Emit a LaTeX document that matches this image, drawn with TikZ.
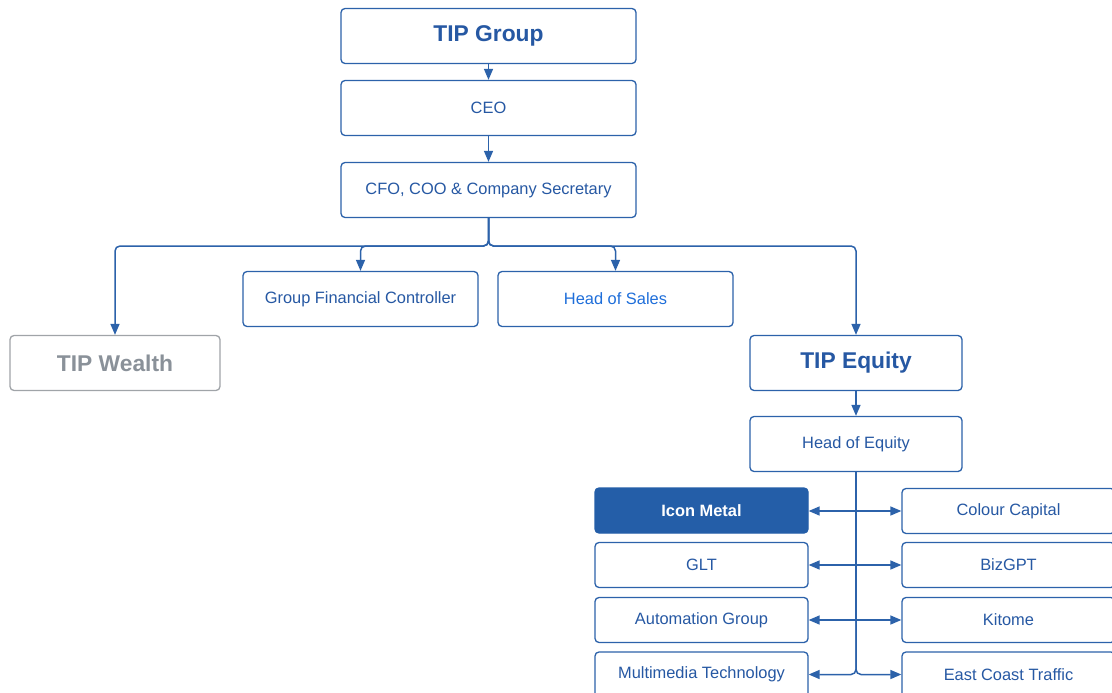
\documentclass[tikz,border=0pt]{standalone}
\usepackage{fontspec}
\setmainfont{Liberation Sans}
\usetikzlibrary{arrows.meta}
\definecolor{bline}{RGB}{44,98,170}
\definecolor{btext}{RGB}{38,88,163}
\definecolor{bright}{RGB}{30,110,218}
\definecolor{gtext}{RGB}{138,145,153}
\definecolor{gline}{RGB}{160,164,168}
\definecolor{bfill}{RGB}{36,94,168}
\tikzset{
  box/.style={draw=bline, line width=1.3pt, rounded corners=4pt, fill=white,
    text=btext, font=\fontsize{16.4}{18}\selectfont, inner sep=0pt, align=center},
  big/.style={box, font=\fontsize{22.8}{25}\selectfont\bfseries},
  conn/.style={draw=bline, line width=1.5pt, -{Triangle[length=11pt,width=9pt]}},
  plain/.style={draw=bline, line width=1.5pt},
}
\begin{document}
\begin{tikzpicture}[x=1pt,y=-1pt]
\useasboundingbox (0,0) rectangle (1112,693);
\clip (0,0) rectangle (1112,693);
\fill[white] (0,0) rectangle (1112,693);
% top chain
\node[big, minimum width=295pt, minimum height=55pt] (grp) at (488.5,36) {TIP Group};
\node[box, minimum width=295pt, minimum height=55pt] (ceo) at (488.5,108) {CEO};
\node[box, minimum width=295pt, minimum height=55pt] (cfo) at (488.5,190) {CFO, COO \& Company Secretary};
% second level
\node[big, draw=gline, text=gtext, minimum width=210pt, minimum height=55pt] (wealth) at (115,363) {TIP Wealth};
\node[box, minimum width=235pt, minimum height=55pt] (gfc) at (360.5,299) {Group Financial Controller};
\node[box, text=bright, minimum width=235pt, minimum height=55pt] (sales) at (615.5,299) {Head of Sales};
\node[big, minimum width=212pt, minimum height=55pt] (equity) at (856,363) {TIP Equity};
\node[box, minimum width=212pt, minimum height=55pt] (hoe) at (856,444) {Head of Equity};
% companies
\node[box, fill=bfill, draw=bfill, text=white, font=\fontsize{16.4}{18}\selectfont\bfseries, minimum width=213pt, minimum height=45pt] (icon) at (701.5,510.5) {Icon Metal};
\node[box, minimum width=213pt, minimum height=45pt] (glt) at (701.5,565) {GLT};
\node[box, minimum width=213pt, minimum height=45pt] (auto) at (701.5,620) {Automation Group};
\node[box, minimum width=213pt, minimum height=45pt] (multi) at (701.5,674.5) {Multimedia Technology};
\node[box, minimum width=213pt, minimum height=45pt] (colour) at (1008.5,511) {Colour Capital};
\node[box, minimum width=213pt, minimum height=45pt] (biz) at (1008.5,565) {BizGPT};
\node[box, minimum width=213pt, minimum height=45pt] (kit) at (1008.5,620) {Kitome};
\node[box, minimum width=213pt, minimum height=45pt] (east) at (1008.5,674.5) {East Coast Traffic};
% connectors top
\draw[conn] (grp.south) -- (ceo.north);
\draw[conn] (ceo.south) -- (cfo.north);
\coordinate (bus) at (488.5,246);
\draw[conn, rounded corners=5pt] (cfo.south) |- (bus) -| (wealth.north);
\draw[conn, rounded corners=5pt] (cfo.south) |- (bus) -| (gfc.north);
\draw[conn, rounded corners=5pt] (cfo.south) |- (bus) -| (sales.north);
\draw[conn, rounded corners=5pt] (cfo.south) |- (bus) -| (equity.north);
\draw[conn] (equity.south) -- (hoe.north);
% equity tree
\coordinate (r1) at (856,511);
\coordinate (r2) at (856,565);
\coordinate (r3) at (856,620);
\draw[plain] (hoe.south) -- (r3);
\draw[conn] (r1) -- (r1 -| icon.east);
\draw[conn] (r1) -- (r1 -| colour.west);
\draw[conn] (r2) -- (glt.east);
\draw[conn] (r2) -- (biz.west);
\draw[conn] (r3) -- (auto.east);
\draw[conn] (r3) -- (kit.west);
\draw[conn, rounded corners=5pt] (r3) |- (multi.east);
\draw[conn, rounded corners=5pt] (r3) |- (east.west);
\end{tikzpicture}
\end{document}
